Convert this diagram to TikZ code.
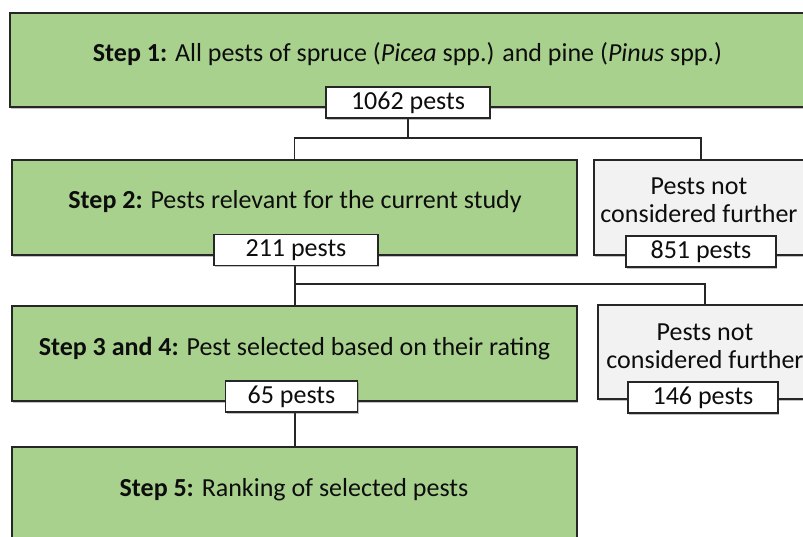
\documentclass[tikz,border=0pt]{standalone}
\usepackage{fontspec}
\setmainfont{Carlito}
\usetikzlibrary{shadows}
\definecolor{stepgreen}{HTML}{A9D18E}
\definecolor{notgrey}{HTML}{F2F2F2}
\definecolor{edgecol}{HTML}{262626}
\definecolor{txtcol}{HTML}{0D0D0D}
\begin{document}
\begin{tikzpicture}[x=1pt,y=-1pt,
  font=\fontsize{26}{29}\selectfont, text=txtcol,
  shad/.style={drop shadow={shadow xshift=1.2pt,shadow yshift=-1.8pt,opacity=0.35,fill=black!70}},
  stepbox/.style={draw=edgecol,line width=1.3pt,fill=stepgreen,inner sep=0pt,shad},
  greybox/.style={draw=edgecol,line width=1.3pt,fill=notgrey,inner sep=0pt,shad},
  countbox/.style={draw=edgecol,line width=1.3pt,fill=white,inner sep=0pt,minimum height=31pt,shad},
  txt/.style={inner sep=0pt,align=center,anchor=base},
  link/.style={draw=edgecol,line width=1.3pt}
]
\useasboundingbox (0,0) rectangle (803,537);
\clip (0,0) rectangle (803,537);

% step boxes
\node[stepbox,minimum width=800pt,minimum height=94pt] (b1) at (410,60) {};
\node[stepbox,minimum width=565pt,minimum height=95pt] (b2) at (294.5,207.5) {};
\node[stepbox,minimum width=565pt,minimum height=95pt] (b3) at (294.5,353.5) {};
\node[stepbox,minimum width=565pt,minimum height=120pt] (b5) at (294.5,507) {};
\node[greybox,minimum width=214pt,minimum height=95pt] (g1) at (701,207.5) {};
\node[greybox,minimum width=214pt,minimum height=94pt] (g2) at (705,352) {};

% texts
\node[txt] (t1) at (407.5,62) {\textbf{Step 1:} All pests of spruce (\textit{Picea} spp.) and pine (\textit{Pinus} spp.)};
\node[txt] (t2) at (295,209) {\textbf{Step 2:} Pests relevant for the current study};
\node[txt] (t3) at (294.5,355) {\textbf{Step 3 and 4:} Pest selected based on their rating};
\node[txt] (t5) at (294,496) {\textbf{Step 5:} Ranking of selected pests};
\node[txt] (g1a) at (699,195) {Pests not};
\node[txt] (g1b) at (699,223) {considered further};
\node[txt] (g2a) at (705,340) {Pests not};
\node[txt] (g2b) at (705,368) {considered further};

% connectors (drawn before count boxes)
\coordinate (j1) at (408,138);
\coordinate (j2) at (295,284);
\draw[link] (408,118) -- (j1);
\draw[link] (j1) -| (b2.north);
\draw[link] (j1) -| (g1.north);
\draw[link] (295,265) -- (b3.north -| j2);
\draw[link] (j2) -| (g2.north);
\draw[link] (295,412) -- (b5.north -| j2);

% count boxes
\node[countbox,minimum width=164pt] (c1) at (408,102.5) {1062 pests};
\node[countbox,minimum width=164pt] (c2) at (296,250) {211 pests};
\node[countbox,minimum width=150pt] (c3) at (701,251.5) {851 pests};
\node[countbox,minimum width=132pt] (c4) at (291.5,396.5) {65 pests};
\node[countbox,minimum width=150pt] (c5) at (703,397.5) {146 pests};
\end{tikzpicture}
\end{document}
